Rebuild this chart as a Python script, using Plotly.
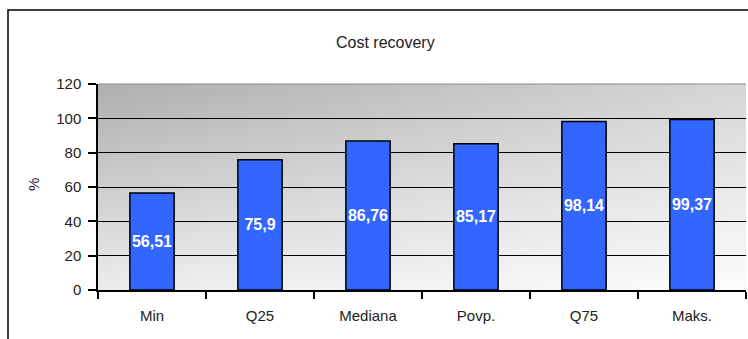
import base64, struct, zlib
import plotly.graph_objects as go

categories = ["Min", "Q25", "Mediana", "Povp.", "Q75", "Maks."]
values = [56.51, 75.9, 86.76, 85.17, 98.14, 99.37]
labels = ["56,51", "75,9", "86,76", "85,17", "98,14", "99,37"]
y_ticks = [0, 20, 40, 60, 80, 100, 120]


def gradient_png(w=48, h=32):
    # diagonal gray gradient: dark top-left -> light bottom-right
    tl, tr, bl, br = 176, 214, 236, 252
    raw = b""
    for j in range(h):
        v = j / (h - 1)
        row = b"\x00"
        for i in range(w):
            u = i / (w - 1)
            c = (tl * (1 - u) + tr * u) * (1 - v) + (bl * (1 - u) + br * u) * v
            c = int(round(c))
            row += bytes([c, c, c])
        raw += row

    def chunk(t, d):
        return struct.pack(">I", len(d)) + t + d + struct.pack(">I", zlib.crc32(t + d) & 0xFFFFFFFF)

    png = b"\x89PNG\r\n\x1a\n"
    png += chunk(b"IHDR", struct.pack(">IIBBBBB", w, h, 8, 2, 0, 0, 0))
    png += chunk(b"IDAT", zlib.compress(raw, 9))
    png += chunk(b"IEND", b"")
    return "data:image/png;base64," + base64.b64encode(png).decode()


W, H = 748, 339
L, R, T, B = 98, 2, 84, 49
pw, ph = W - L - R, H - T - B

fig = go.Figure()
fig.add_trace(go.Bar(
    x=categories, y=values, text=labels,
    textposition="inside", insidetextanchor="middle",
    constraintext="none", textangle=0,
    textfont=dict(family="Liberation Sans, Arial", size=16, color="white", weight="bold"),
    marker=dict(color="#3366ff", line=dict(color="black", width=1.5)),
    hoverinfo="skip",
))

fig.update_layout(
    width=W, height=H,
    margin=dict(l=L, r=R, t=T, b=B, autoexpand=False),
    paper_bgcolor="white",
    plot_bgcolor="rgba(0,0,0,0)",
    bargap=0.59,
    showlegend=False,
    font=dict(family="Liberation Sans, Arial", size=15, color="#222"),
    images=[dict(source=gradient_png(), xref="paper", yref="paper",
                 x=0, y=1, sizex=1, sizey=1, sizing="stretch",
                 xanchor="left", yanchor="top", layer="below")],
    shapes=[
        # outer chart frame (cut off at right/bottom)
        dict(type="rect", xref="paper", yref="paper",
             x0=(8 - L) / pw, x1=(770 - L) / pw,
             y0=-(360 - (T + ph)) / ph, y1=(T + ph - 10) / ph,
             line=dict(color="black", width=1.5), fillcolor="rgba(0,0,0,0)", layer="below"),
        # plot area top border
        dict(type="line", xref="paper", yref="paper", x0=0, x1=1, y0=1, y1=1,
             line=dict(color="#8a8a8a", width=1.2), layer="below"),
    ],
    annotations=[
        dict(text="Cost recovery", xref="paper", yref="paper",
             x=(385 - L) / pw, y=(T + ph - 42) / ph, showarrow=False,
             xanchor="center", yanchor="middle",
             font=dict(size=16, color="#222")),
        dict(text="%", xref="paper", yref="paper",
             x=(33 - L) / pw, y=(T + ph - 185) / ph, showarrow=False,
             textangle=-90, xanchor="center", yanchor="middle",
             font=dict(size=15, color="#222")),
    ],
)

fig.update_xaxes(
    showgrid=False, showline=True, linecolor="black", linewidth=1.5,
    ticks="outside", ticklen=7, tickcolor="black", tickwidth=1.5,
    tickson="boundaries", range=[-0.5, 5.5], fixedrange=True, automargin=False,
    ticklabelstandoff=11,
)
fig.update_yaxes(
    range=[0, 120], tickvals=y_ticks, showgrid=True, gridcolor="black", gridwidth=1,
    showline=True, linecolor="black", linewidth=1.5,
    ticks="outside", ticklen=8, tickcolor="black", tickwidth=1.5,
    zeroline=False, fixedrange=True, automargin=False,
    ticklabelstandoff=4,
)

fig.write_html(
    "out.html",
    config={"displayModeBar": False},
    post_script="document.body.style.margin='0';document.body.style.overflow='hidden';",
)
